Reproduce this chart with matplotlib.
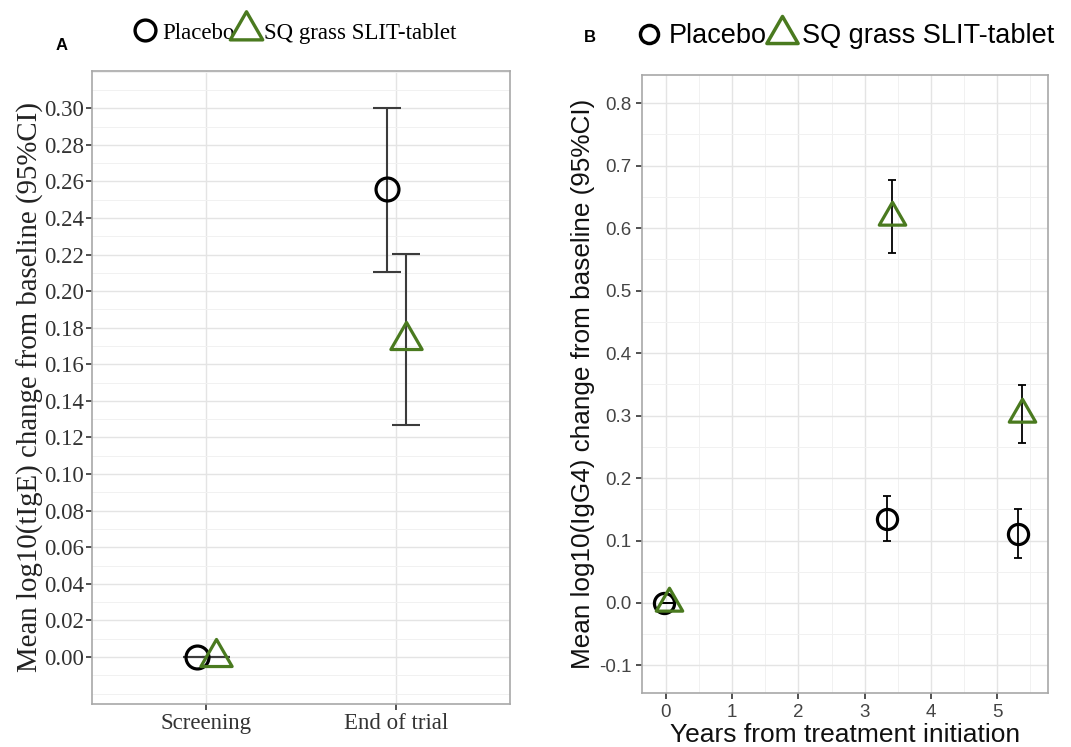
import numpy as np
import matplotlib
matplotlib.use("Agg")
import matplotlib.pyplot as plt
from matplotlib.path import Path
from matplotlib.lines import Line2D
from matplotlib.ticker import MultipleLocator

# ---- data: panel A (total IgE) ----
visits = ["Screening", "End of trial"]
a_placebo_mean = [0.000, 0.256]
a_placebo_lo = [0.000, 0.2105]
a_placebo_hi = [0.000, 0.3002]
a_active_mean = [0.000, 0.1735]
a_active_lo = [0.000, 0.127]
a_active_hi = [0.000, 0.2202]

# ---- data: panel B (IgG4) ----
years = [0.005, 3.37, 5.345]
b_placebo_mean = [0.000, 0.134, 0.110]
b_placebo_lo = [0.000, 0.0987, 0.072]
b_placebo_hi = [0.000, 0.171, 0.150]
b_active_mean = [0.000, 0.618, 0.3026]
b_active_lo = [0.000, 0.5595, 0.2565]
b_active_hi = [0.000, 0.677, 0.349]

labels = ["Placebo", "SQ grass SLIT-tablet"]
GREEN = "#4a7a1f"
SERIF = "Liberation Serif"
SANS = "Liberation Sans"

# equilateral triangle centred on its centroid (like R's pch 2)
TRI = Path([(0, 1), (-0.866, -0.5), (0.866, -0.5), (0, 1)], closed=True)


def style_axes(ax):
    ax.set_facecolor("white")
    ax.grid(True, which="major", color="#e4e4e4", lw=1.0, zorder=0)
    ax.grid(True, which="minor", color="#f1f1f1", lw=0.7, zorder=0)
    ax.set_axisbelow(True)
    for sp in ax.spines.values():
        sp.set_color("#a8a8a8")
        sp.set_linewidth(1.2)
    ax.tick_params(which="major", length=4, width=1.2, color="#333333")
    ax.tick_params(which="minor", length=0)


def yerr(mean, lo, hi):
    m = np.array(mean)
    return [m - np.array(lo), np.array(hi) - m]


fig = plt.figure(figsize=(10.71, 7.47), dpi=100)

# ---------------- Panel A ----------------
ax_a = fig.add_axes([0.0862, 0.0576, 0.390, 0.8474])
style_axes(ax_a)
xa = np.arange(1, len(visits) + 1)
dodge_a = 0.05
ax_a.errorbar(xa - dodge_a, a_placebo_mean, yerr=yerr(a_placebo_mean, a_placebo_lo, a_placebo_hi),
              fmt="none", ecolor="#3c3c3c", elinewidth=1.5, capsize=10, capthick=1.5, zorder=2)
ax_a.errorbar(xa + dodge_a, a_active_mean, yerr=yerr(a_active_mean, a_active_lo, a_active_hi),
              fmt="none", ecolor="#3c3c3c", elinewidth=1.5, capsize=10, capthick=1.5, zorder=2)
ax_a.plot(xa - dodge_a, a_placebo_mean, ls="none", marker="o", ms=16.5, mfc="none",
          mec="black", mew=2.3, zorder=3)
ax_a.plot(xa + dodge_a, a_active_mean, ls="none", marker=TRI, ms=26, mfc="none",
          mec=GREEN, mew=2.3, zorder=3)
ax_a.set_xlim(0.4, 2.6)
ax_a.set_ylim(-0.0257, 0.3204)
ax_a.set_xticks(xa)
ax_a.set_xticklabels(visits)
ax_a.set_yticks(np.arange(0, 0.301, 0.02))
ax_a.set_yticklabels([f"{v:.2f}" for v in np.arange(0, 0.301, 0.02)])
ax_a.yaxis.set_minor_locator(MultipleLocator(0.01))
for t in ax_a.get_xticklabels() + ax_a.get_yticklabels():
    t.set_fontfamily(SERIF)
    t.set_fontsize(16.5)
    t.set_color("#333333")
ax_a.tick_params(axis="x", pad=2.5)
ax_a.tick_params(axis="y", pad=2)
ax_a.set_ylabel("Mean log10(tIgE) change from baseline (95%CI)", fontfamily=SERIF,
                fontsize=20.8, color="#222222", labelpad=0)

handles_a = [
    Line2D([], [], ls="none", marker="o", ms=15, mfc="none", mec="black", mew=2.4),
    Line2D([], [], ls="none", marker=TRI, ms=27, mfc="none", mec=GREEN, mew=2.4),
]
ax_a.legend(handles_a, labels, loc="center", bbox_to_anchor=(0.485, 1.06), ncol=2,
            frameon=False, handlelength=1.0, handletextpad=0.25, columnspacing=0.0,
            prop={"family": SERIF, "size": 16.5})
fig.text(62 / 1071, 1 - 45 / 747, "A", fontfamily=SANS, fontweight="bold",
         fontsize=12, ha="center", va="center")

# ---------------- Panel B ----------------
ax_b = fig.add_axes([0.5992, 0.0719, 0.3791, 0.8277])
style_axes(ax_b)
xb = np.array(years)
dodge_b = 0.037
ax_b.errorbar(xb - dodge_b, b_placebo_mean, yerr=yerr(b_placebo_mean, b_placebo_lo, b_placebo_hi),
              fmt="none", ecolor="black", elinewidth=1.3, capsize=2.8, capthick=1.3, zorder=2)
ax_b.errorbar(xb + dodge_b, b_active_mean, yerr=yerr(b_active_mean, b_active_lo, b_active_hi),
              fmt="none", ecolor="black", elinewidth=1.3, capsize=2.8, capthick=1.3, zorder=2)
ax_b.plot(xb - dodge_b, b_placebo_mean, ls="none", marker="o", ms=14.5, mfc="none",
          mec="black", mew=2.3, zorder=3)
ax_b.plot(xb + dodge_b, b_active_mean, ls="none", marker=TRI, ms=22, mfc="none",
          mec=GREEN, mew=2.3, zorder=3)
ax_b.set_xlim(-0.366, 5.764)
ax_b.set_ylim(-0.1445, 0.845)
ax_b.set_xticks(range(0, 6))
ax_b.set_yticks(np.arange(-0.1, 0.801, 0.1))
ax_b.set_yticklabels([f"{v:.1f}" for v in np.arange(-0.1, 0.801, 0.1)])
ax_b.xaxis.set_minor_locator(MultipleLocator(0.5))
ax_b.yaxis.set_minor_locator(MultipleLocator(0.05))
for t in ax_b.get_xticklabels() + ax_b.get_yticklabels():
    t.set_fontfamily(SANS)
    t.set_fontsize(13.5)
    t.set_color("#444444")
ax_b.set_ylabel("Mean log10(IgG4) change from baseline (95%CI)", fontfamily=SANS,
                fontsize=18.8, color="#111111", labelpad=3)
ax_b.set_xlabel("Years from treatment initiation", fontfamily=SANS, fontsize=19,
                color="#111111", labelpad=2)

handles_b = [
    Line2D([], [], ls="none", marker="o", ms=13, mfc="none", mec="black", mew=2.5),
    Line2D([], [], ls="none", marker=TRI, ms=26, mfc="none", mec=GREEN, mew=2.5),
]
ax_b.legend(handles_b, labels, loc="center", bbox_to_anchor=(0.5, 1.063), ncol=2,
            frameon=False, handlelength=1.0, handletextpad=0.25, columnspacing=0.05,
            prop={"family": SANS, "size": 19.5})
fig.text(590 / 1071, 1 - 38 / 747, "B", fontfamily=SANS, fontweight="bold",
         fontsize=12, ha="center", va="center")

fig.savefig("out.png", dpi=100, facecolor="white")
